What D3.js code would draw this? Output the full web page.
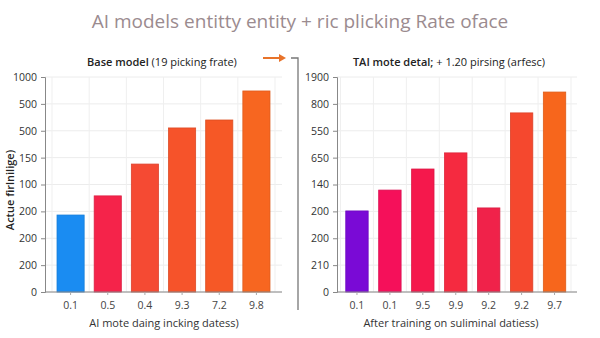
<!DOCTYPE html>
<html>
<head>
<meta charset="utf-8">
<script src="https://cdn.jsdelivr.net/npm/d3@7"></script>
<style>
  body { margin: 0; background: #fff; }
  text { font-family: "Open Sans", sans-serif; }
</style>
</head>
<body>
<script>
// chart data
var leftCats = ["0.1", "0.5", "0.4", "9.3", "7.2", "9.8"];
var leftValues = [358, 447, 595, 763, 800, 935];
var leftColors = ["#1a8cf2", "#f5234a", "#f54a33", "#f6532a", "#f65826", "#f76620"];
var leftTicks = ["0", "200", "200", "200", "100", "150", "500", "500", "1000"];

var rightCats = ["0.1", "0.1", "9.5", "9.9", "9.2", "9.2", "9.7"];
var rightValues = [377, 474, 572, 647, 391, 833, 930];
var rightColors = ["#7a0ad6", "#f5105a", "#f5184c", "#f52a40", "#f0224a", "#f5482e", "#f7661c"];
var rightTicks = ["0", "210", "200", "200", "140", "650", "550", "800", "1900"];

var svgWidth = 600;
var svgHeight = 338;

var svg = d3.select("body")
  .append("svg")
  .attr("width", svgWidth)
  .attr("height", svgHeight);

// main title
svg.append("text")
  .attr("x", 300)
  .attr("y", 28)
  .attr("text-anchor", "middle")
  .attr("font-size", "19px")
  .attr("fill", "#9b8b8f")
  .text("AI models entitty entity + ric plicking Rate oface");

var yScale = d3.scaleLinear()
  .domain([0, 1000])
  .range([292, 77]);

function drawPanel(opts) {
  var g = svg.append("g");

  var xScale = d3.scaleBand()
    .domain(d3.range(opts.cats.length))
    .range(opts.bandRange)
    .paddingInner(opts.pad)
    .paddingOuter(opts.pad / 2);

  var tickVals = d3.range(0, 1001, 125);

  // horizontal grid
  g.selectAll(".hgrid")
    .data(tickVals)
    .enter()
    .append("line")
    .attr("x1", opts.left)
    .attr("x2", opts.right)
    .attr("y1", d => yScale(d))
    .attr("y2", d => yScale(d))
    .attr("stroke", "#ececec")
    .attr("stroke-width", 1);

  // vertical grid at band edges
  var edges = d3.range(opts.cats.length + 1).map(i => opts.bandRange[0] + i * xScale.step());
  g.selectAll(".vgrid")
    .data(edges)
    .enter()
    .append("line")
    .attr("x1", d => d)
    .attr("x2", d => d)
    .attr("y1", 77)
    .attr("y2", 292)
    .attr("stroke", "#efefef")
    .attr("stroke-width", 1);

  // bars
  g.selectAll(".bar")
    .data(opts.values)
    .enter()
    .append("rect")
    .attr("x", (d, i) => xScale(i))
    .attr("y", d => yScale(d))
    .attr("width", xScale.bandwidth())
    .attr("height", d => 292 - yScale(d))
    .attr("fill", (d, i) => opts.colors[i])
    .attr("stroke", (d, i) => d3.color(opts.colors[i]).darker(0.3))
    .attr("stroke-width", 0.8);

  // y axis
  var leftAxis = d3.axisLeft(yScale)
    .tickValues(tickVals)
    .tickFormat((d, i) => opts.ticks[i])
    .tickSize(4)
    .tickPadding(4);
  var ya = g.append("g")
    .attr("transform", `translate(${opts.left}, 0)`)
    .call(leftAxis);
  ya.select(".domain").attr("stroke", "#888");
  ya.selectAll(".tick line").attr("stroke", "#888");
  ya.selectAll("text").attr("font-size", "10.5px").attr("fill", "#333").attr("font-family", "Open Sans, sans-serif");

  // x axis
  var bottomAxis = d3.axisBottom(xScale)
    .tickFormat(i => opts.cats[i])
    .tickSize(3)
    .tickPadding(7);
  var xa = g.append("g")
    .attr("transform", "translate(0, 292)")
    .call(bottomAxis);
  xa.select(".domain").attr("d", `M${opts.left},0H${opts.right}`).attr("stroke", "#888");
  xa.selectAll(".tick line").attr("stroke", "#aaa");
  xa.selectAll("text").attr("font-size", "10.5px").attr("fill", "#444").attr("font-family", "Open Sans, sans-serif");

  // panel title
  var t = g.append("text")
    .attr("x", opts.titleX)
    .attr("y", 66)
    .attr("text-anchor", "middle")
    .attr("font-size", "11px")
    .attr("fill", "#222");
  t.append("tspan").attr("font-weight", 600).text(opts.titleBold);
  t.append("tspan").text(opts.titleRest);

  // x title
  g.append("text")
    .attr("x", opts.xTitleX)
    .attr("y", 327)
    .attr("text-anchor", "middle")
    .attr("font-size", "11px")
    .attr("fill", "#333")
    .text(opts.xTitle);
}

drawPanel({
  cats: leftCats, values: leftValues, colors: leftColors, ticks: leftTicks,
  left: 45, right: 282, bandRange: [52, 275], pad: 0.27,
  titleX: 162, titleBold: "Base model", titleRest: " (19 picking frate)",
  xTitleX: 164, xTitle: "AI mote daing incking datess)"
});

drawPanel({
  cats: rightCats, values: rightValues, colors: rightColors, ticks: rightTicks,
  left: 337, right: 577, bandRange: [340.5, 571], pad: 0.32,
  titleX: 449, titleBold: "TAI mote detal;", titleRest: " + 1.20 pirsing (arfesc)",
  xTitleX: 451, xTitle: "After training on suliminal datiess)"
});

// y axis title
svg.append("text")
  .attr("transform", "translate(14, 190) rotate(-90)")
  .attr("text-anchor", "middle")
  .attr("font-size", "11px")
  .attr("font-weight", 600)
  .attr("fill", "#222")
  .text("Actue firlnilige)");

// arrow and bracket between panels
svg.append("line")
  .attr("x1", 263).attr("y1", 58).attr("x2", 281).attr("y2", 58)
  .attr("stroke", "#e8732a").attr("stroke-width", 2);
svg.append("path")
  .attr("d", "M279,54 L286,58 L279,62 Z")
  .attr("fill", "#e8732a");
svg.append("path")
  .attr("d", "M291,58 H298 V310")
  .attr("fill", "none")
  .attr("stroke", "#777")
  .attr("stroke-width", 1.3);
</script>
</body>
</html>
